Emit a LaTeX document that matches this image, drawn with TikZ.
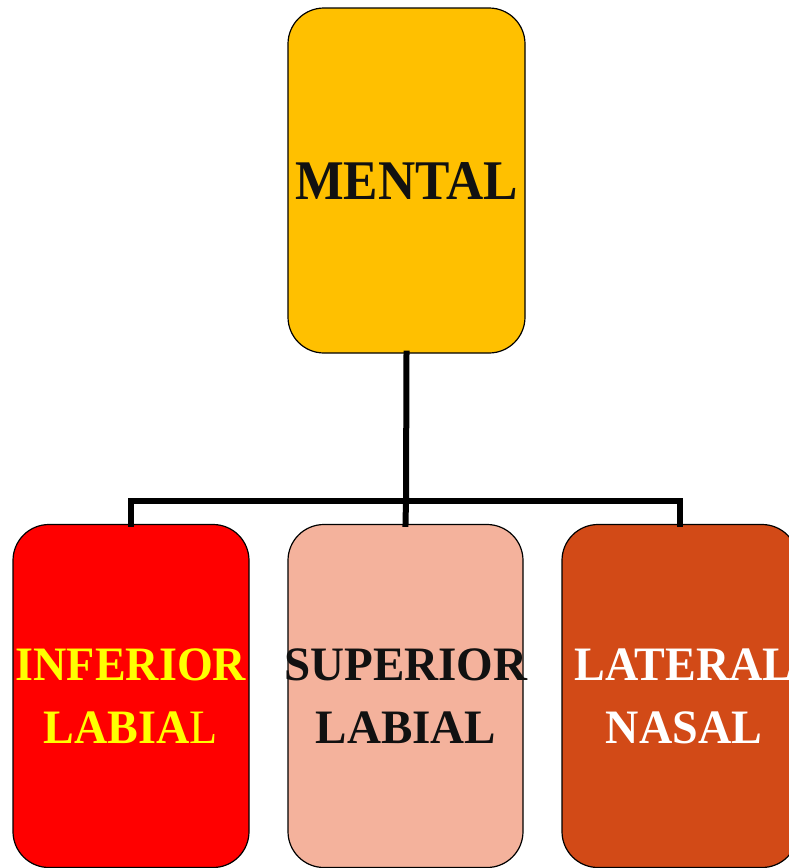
\documentclass[tikz,border=0pt]{standalone}
\usepackage{fontspec}
\setmainfont{Liberation Serif}
\usepackage{graphicx}
\definecolor{cTop}{HTML}{FFC000}
\definecolor{cLeft}{HTML}{FF0000}
\definecolor{cMid}{HTML}{F4B29C}
\definecolor{cRight}{HTML}{D24A17}
\definecolor{cInk}{HTML}{111111}
\definecolor{cYel}{HTML}{FFFF00}
\tikzset{
  boxnode/.style={draw=black, line width=1.2pt, rounded corners=36pt, inner sep=0pt,
    minimum width=236pt, minimum height=343pt},
  bottomtext/.style={font=\bfseries\fontsize{48}{63}\selectfont, align=center, inner sep=0pt},
  toptext/.style={font=\bfseries\fontsize{56}{60}\selectfont, inner sep=0pt},
  link/.style={line width=6pt, line join=miter, line cap=rect}
}
\begin{document}
\begin{tikzpicture}[x=1pt,y=-1pt]
\useasboundingbox (0,0) rectangle (788,868);
\node[boxnode, fill=cTop, minimum height=345pt, minimum width=237pt] (top) at (406.5,180.5) {};
\node[boxnode, fill=cLeft] (b1) at (131,696) {};
\node[boxnode, fill=cMid, minimum width=235pt] (b2) at (405.5,696) {};
\node[boxnode, fill=cRight] (b3) at (680,696) {};
\node[toptext, text=cInk] (t0) at (406.5,181.5) {\scalebox{0.92}[1]{MENTAL}};
\node[bottomtext, text=cYel] (t1) at (131,696) {\scalebox{0.96}[1]{INFERIOR}\\\scalebox{0.96}[1]{LABIA\textmd{L}}};
\node[bottomtext, text=cInk] (t2) at (406,696) {\scalebox{0.98}[1]{SUPERIOR}\\\scalebox{0.98}[1]{LABIAL}};
\node[bottomtext, text=white] (t3) at (684,696) {\scalebox{0.96}[1]{LATERAL}\\\scalebox{0.96}[1]{NASAL}};
\coordinate (j) at (406,500.5);
\draw[link] (top.south) -- (j);
\draw[link] (j) -- (b2.north);
\draw[link] (b1.north) |- (j) -| (b3.north);
\end{tikzpicture}
\end{document}
